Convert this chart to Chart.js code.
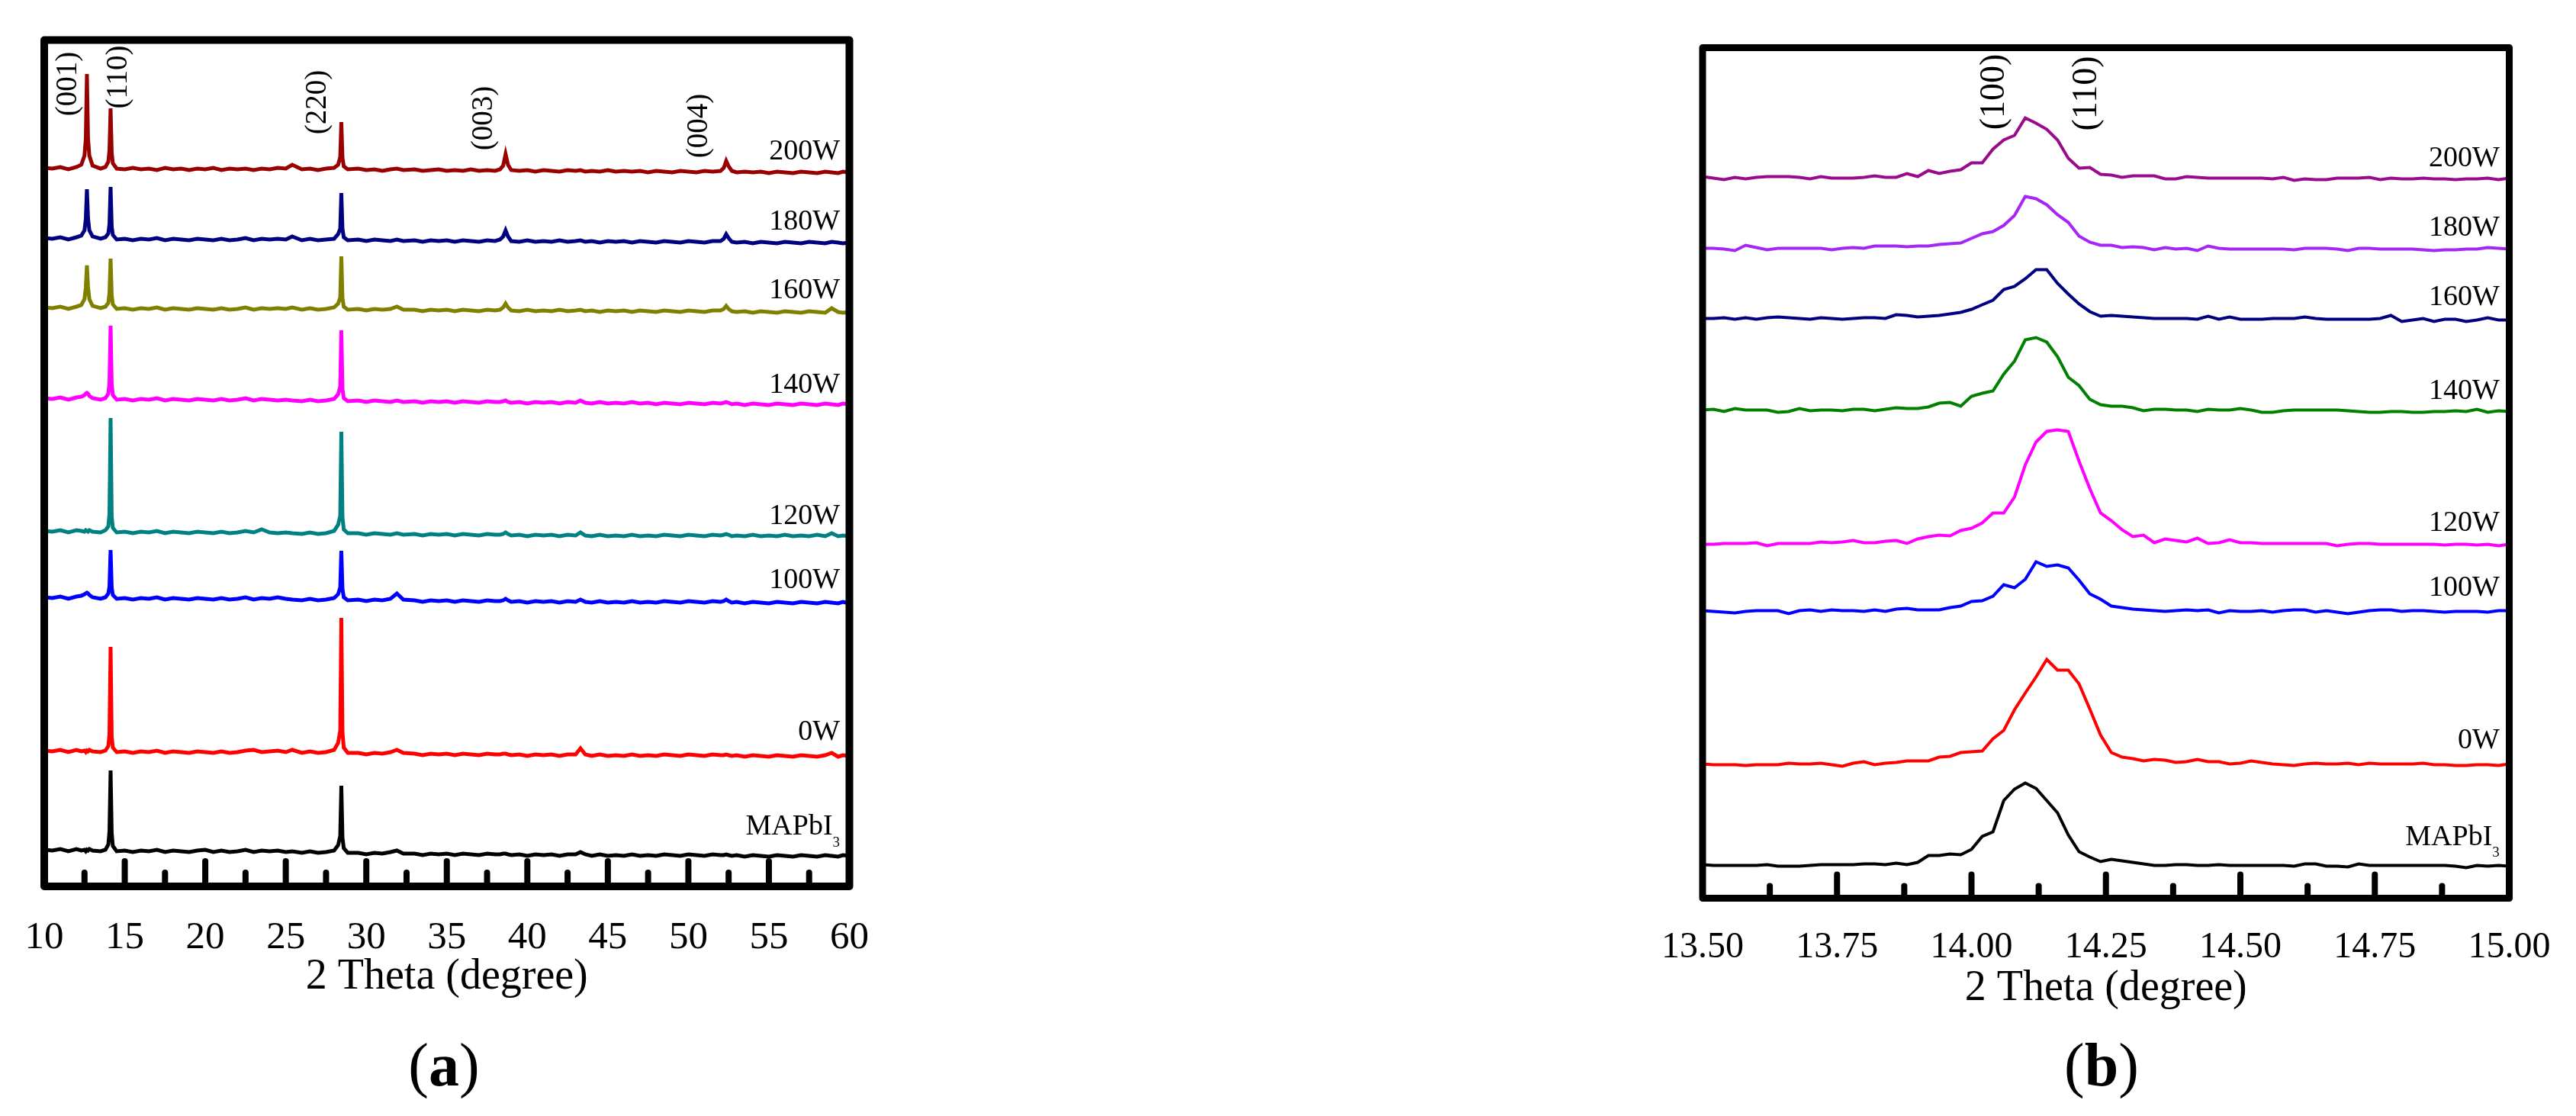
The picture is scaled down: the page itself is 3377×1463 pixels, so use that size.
<!DOCTYPE html>
<html><head><meta charset="utf-8">
<script src="https://cdn.jsdelivr.net/npm/chart.js@4.4.1/dist/chart.umd.min.js"></script>
<style>
html,body{margin:0;padding:0;background:#fff;}
body{width:3377px;height:1463px;position:relative;overflow:hidden;}
canvas{position:absolute;top:0;}
#ca{left:0;} #cb{left:2150px;}
</style></head><body>
<canvas id="ca" width="1200" height="1463"></canvas>
<canvas id="cb" width="1227" height="1463"></canvas>
<script>
const FONT = "'Liberation Serif','Times New Roman',Times,serif";

// ---------- panel (a): 2θ = 10–60° ----------
const thetaA = [
10,10.5,11,11.5,12,12.3,12.5,12.58,12.65,12.72,
12.8,13,13.5,13.8,13.98,14.05,14.12,14.19,14.26,14.5,
15,15.5,16,16.5,17,17.5,18,18.5,19,19.5,
20,20.5,21,21.5,22,22.5,23,23.5,24,24.5,
25,25.4,26,26.5,27,27.5,28,28.25,28.38,28.45,
28.52,28.6,28.85,29.5,30,30.5,31,31.5,31.9,32.3,
33,33.5,34,34.5,35,35.5,36,36.5,37,37.5,
38,38.3,38.5,38.65,38.8,39,39.5,40,40.5,41,
41.5,42,42.5,43,43.3,43.6,44,44.5,45,45.5,
46,46.5,47,47.5,48,48.5,49,49.5,50,50.5,
51,51.5,52,52.2,52.35,52.5,52.7,53,53.5,54,
54.5,55,55.5,56,56.5,57,57.5,58,58.5,58.9,
59.3,59.6,60];

const a200W = [
942,941,943,940,943,946,958,980,1065,980,
958,945,941,943,950,965,1020,962,948,941,
940,942,940,941,939,942,940,941,939,941,
940,942,939,941,940,941,939,941,940,942,
941,946,940,941,939,941,942,946,956,1002,
955,944,940,941,939,940,938,940,941,939,
940,938,939,940,938,939,938,940,938,939,
938,940,945,960,946,939,938,939,937,939,
938,937,939,938,939,937,938,937,939,937,
938,937,938,936,938,937,936,938,937,936,
938,937,938,942,951,944,938,936,937,936,
937,935,937,936,935,937,936,935,937,936,
935,937,936];
const a180W = [
850,849,851,848,851,853,860,875,914,876,
860,852,849,851,856,868,917,865,854,848,
849,847,849,848,850,847,849,848,847,849,
848,847,849,847,848,850,847,849,848,849,
848,852,847,849,847,848,849,855,862,909,
862,851,847,848,846,848,847,846,848,846,
847,845,847,846,847,845,847,846,845,847,
846,848,852,860,852,846,845,847,845,846,
845,847,845,846,847,845,846,844,846,845,
846,844,846,845,844,846,845,844,846,845,
844,846,846,849,855,850,845,844,845,843,
845,844,843,845,844,843,845,844,843,845,
844,843,844];
const a160W = [
759,758,760,757,760,762,770,785,814,786,
770,761,758,760,765,778,823,775,763,757,
758,756,758,757,759,756,758,757,756,758,
757,756,758,756,757,759,756,758,757,758,
757,759,756,758,756,757,759,764,772,826,
771,760,756,757,755,757,756,757,760,756,
756,754,756,755,756,754,756,755,754,756,
755,756,759,764,759,755,754,756,754,755,
754,756,754,755,756,754,755,753,755,754,
755,753,755,754,753,755,754,753,755,754,
753,755,755,757,761,757,754,753,754,752,
754,753,752,754,753,752,754,753,752,758,
753,752,753];
const a140W = [
640,639,641,638,641,642,644,646,647,646,
643,640,638,640,646,660,735,658,644,638,
639,637,639,638,640,637,639,638,637,639,
638,637,639,637,638,640,637,639,638,637,
638,637,636,638,636,637,639,645,655,729,
652,640,636,637,635,637,636,635,637,635,
636,634,636,635,636,634,636,635,634,636,
635,635,636,637,635,634,635,633,635,634,
635,633,635,634,637,634,633,635,633,634,
633,635,633,634,632,634,633,632,634,633,
632,634,633,634,635,634,632,633,631,633,
632,631,633,632,631,633,632,631,633,632,
631,633,632];
const a120W = [
466,465,467,464,467,466,465,467,466,465,
467,465,464,467,472,488,614,485,470,464,
465,463,465,464,466,463,465,464,463,465,
464,463,465,463,464,466,464,468,464,463,
464,463,462,464,462,463,466,474,486,596,
484,468,463,463,461,463,462,461,463,461,
462,460,462,461,462,460,462,461,460,462,
461,461,462,464,462,460,461,459,461,460,
461,459,461,460,464,460,459,461,459,460,
459,461,459,460,459,461,460,459,461,460,
459,461,460,461,462,461,459,460,459,461,
459,460,459,461,459,460,459,461,459,463,
459,460,459];
const a100W = [
379,378,380,377,380,381,383,384,385,384,
382,379,377,379,384,393,441,392,382,377,
378,376,378,377,379,376,378,377,376,378,
377,376,378,376,377,379,376,378,377,379,
377,376,375,377,375,376,378,383,392,440,
390,379,375,376,374,376,375,377,384,376,
375,373,375,374,375,373,375,374,373,375,
374,374,375,377,375,373,374,372,374,373,
374,372,374,373,376,373,372,374,372,373,
372,374,372,373,372,374,373,372,374,373,
372,374,373,374,376,374,372,373,371,373,
372,371,373,372,371,373,372,371,373,372,
371,373,371];
const a0W = [
178,177,179,176,179,177,178,176,178,177,
179,177,176,178,184,199,314,196,182,176,
177,175,177,176,178,175,177,176,175,177,
176,175,177,175,176,178,179,176,177,178,
176,179,175,177,175,176,179,188,204,352,
202,182,175,175,173,175,174,176,179,175,
174,172,174,173,174,172,174,173,172,174,
173,173,174,174,173,172,173,171,173,172,
173,171,173,173,181,173,171,173,171,172,
171,173,171,172,171,173,172,171,173,172,
171,173,172,172,173,172,171,172,170,172,
171,170,172,171,170,172,171,170,172,175,
170,172,171];
const aMAPbI3 = [
48,47,49,46,49,47,48,46,48,47,
49,47,46,48,55,72,152,70,53,46,
47,45,47,46,48,45,47,46,45,47,
48,45,47,45,46,48,45,47,46,47,
45,46,44,46,44,45,47,54,66,132,
64,50,44,44,42,44,43,45,47,43,
43,41,43,42,43,41,43,42,41,43,
42,42,43,43,42,41,42,40,42,41,
42,40,42,42,45,42,40,42,40,41,
40,42,40,41,40,42,41,40,42,41,
40,42,41,41,42,41,40,41,39,41,
40,39,41,40,39,41,40,39,41,40,
39,41,40];

const namesA = ['200W','180W','160W','140W','120W','100W','0W','MAPbI3'];
const valuesA = [a200W,a180W,a160W,a140W,a120W,a100W,a0W,aMAPbI3];
const ticksA = [10,15,20,25,30,35,40,45,50,55,60];
const tickLabelsA = ['10','15','20','25','30','35','40','45','50','55','60'];
const minorA = [12.5,17.5,22.5,27.5,32.5,37.5,42.5,47.5,52.5,57.5];
const peaksA = ['(001)','(110)','(220)','(003)','(004)'];

// ---------- panel (b): 2θ = 13.50–15.00° ----------
const thetaB = [
13.50,13.52,13.54,13.56,13.58,13.60,13.62,13.64,13.66,13.68,
13.70,13.72,13.74,13.76,13.78,13.80,13.82,13.84,13.86,13.88,
13.90,13.92,13.94,13.96,13.98,14.00,14.02,14.04,14.06,14.08,
14.10,14.12,14.14,14.16,14.18,14.20,14.22,14.24,14.26,14.28,
14.30,14.32,14.34,14.36,14.38,14.40,14.42,14.44,14.46,14.48,
14.50,14.52,14.54,14.56,14.58,14.60,14.62,14.64,14.66,14.68,
14.70,14.72,14.74,14.76,14.78,14.80,14.82,14.84,14.86,14.88,
14.90,14.92,14.94,14.96,14.98,15.00];

const b200W = [946,944,942,945,943,945,946,946,946,945,943,946,944,944,944,945,947,
945,945,950,946,954,950,953,955,964,964,982,994,1000,1023,1016,1008,994,970,957,958,949,948,945,947,947,947,943,943,
946,945,944,944,944,944,944,944,943,945,941,943,942,942,944,944,944,945,942,944,943,943,944,943,943,942,943,943,944,942,944];
const b180W = [852,852,851,849,856,853,850,852,852,852,852,852,850,852,853,852,855,
855,855,854,855,855,857,858,859,865,871,874,882,895,920,917,909,896,886,868,860,856,856,853,854,853,850,853,851,
852,849,855,852,851,851,851,851,851,851,850,852,852,852,851,849,852,852,851,851,851,851,850,849,850,850,851,851,853,852,851];
const b160W = [760,760,761,759,761,759,761,762,761,760,759,761,760,759,760,761,761,
760,765,764,762,763,764,766,768,772,778,784,798,802,812,824,824,806,792,779,769,763,764,763,762,761,760,760,760,
760,759,763,759,762,759,759,759,760,760,760,762,760,759,759,759,759,759,760,764,756,758,760,756,759,759,756,758,761,758,758];
const b140W = [640,641,638,642,640,640,640,637,638,642,639,640,640,639,641,641,639,
641,643,642,642,644,649,650,645,658,662,665,687,704,732,735,729,710,683,672,654,647,645,645,643,639,641,641,640,
640,638,641,640,640,642,640,637,637,639,640,640,640,640,640,639,638,637,637,638,638,637,637,638,638,639,638,641,637,639,638];
const b120W = [464,464,465,465,465,466,462,465,465,465,465,467,466,467,469,466,466,
468,469,465,471,474,476,475,482,485,492,505,505,526,568,598,612,614,612,573,537,505,495,483,474,476,466,471,469,
467,472,465,466,470,466,466,465,465,465,465,465,465,465,462,464,465,465,464,464,464,464,464,464,463,464,464,463,464,462,464];
const b100W = [377,376,375,374,376,377,377,377,373,377,378,376,378,377,377,376,378,
376,379,380,378,378,378,381,383,389,390,396,411,407,418,441,435,437,433,417,399,392,383,381,379,378,377,376,377,
378,377,378,374,377,376,376,377,375,377,378,378,375,377,375,373,375,377,378,378,376,377,377,376,375,376,376,376,375,377,377];
const b0W = [176,175,175,175,174,175,175,175,177,176,176,177,175,173,177,179,175,
177,178,180,180,180,185,186,191,192,193,209,220,247,269,290,313,299,299,281,248,214,191,185,183,180,182,181,178,
179,182,179,179,176,177,180,178,176,175,174,176,177,176,176,177,175,177,176,176,176,176,177,175,175,174,174,175,175,174,176];
const bMAPbI3 = [44,43,43,43,43,43,44,42,42,42,43,44,44,44,44,45,45,
44,46,44,47,56,56,58,57,64,81,87,128,143,151,144,128,112,83,61,54,48,51,49,47,45,43,43,44,
44,43,43,44,43,43,43,43,43,43,42,45,45,42,42,41,45,43,43,43,43,43,43,43,43,42,40,43,42,43,42];

const namesB = ['200W','180W','160W','140W','120W','100W','0W','MAPbI3'];
const valuesB = [b200W,b180W,b160W,b140W,b120W,b100W,b0W,bMAPbI3];
const ticksB = [13.5,13.75,14,14.25,14.5,14.75,15];
const tickLabelsB = ['13.50','13.75','14.00','14.25','14.50','14.75','15.00'];
const minorB = [13.625,13.875,14.125,14.375,14.625,14.875];
const peaksB = ['(100)','(110)'];

// ---------- styling / layout (not data) ----------
const colorsA = ['#990000','#000080','#808000','#ff00ff','#008080','#0000ff','#ff0000','#000000'];
const colorsB = ['#990a8c','#a526f5','#000080','#008000','#ff00ff','#0000ff','#ff0000','#000000'];

const layoutA = {
  padding:{left:58,right:86.5,top:52.5,bottom:0}, scaleH:301, yMax:1109.5,
  tickSize:51, tickPad:29, titlePad:148, frameW:10, tickW:8, majorLen:37, minorLen:22,
  nameX:59.41, nameY:[953,861,771,647,475,391,192,68], nameSize:38, subSize:19, subDrop:16,
  peakX:[11.52,14.64,27.0,37.3,50.66], peakY:[1052,1061,1028,1007,997], peakFont:'39px '+FONT,
  caption:'a', capX:582, capY:1423, lineW:5
};
const layoutB = {
  padding:{left:79.5,right:87.5,top:62.5,bottom:0}, scaleH:285.5, yMax:1115,
  tickSize:48, tickPad:28, titlePad:133, frameW:9, tickW:8, majorLen:35, minorLen:20,
  nameX:14.982, nameY:[960,869,778,655,482,397,197,70], nameSize:38, subSize:19, subDrop:15,
  peakX:[14.043,14.215], peakY:[1057,1055], peakFont:'46px '+FONT,
  caption:'b', capX:605, capY:1423, lineW:4
};

function decor(L, major, minor, names, peaks) {
  return {
    id: 'decor',
    afterDatasetsDraw(chart) {
      const {ctx, chartArea: a, scales: {x, y}} = chart;
      ctx.save();
      ctx.strokeStyle = '#000';
      ctx.fillStyle = '#000';
      ctx.lineCap = 'round';
      ctx.lineWidth = L.tickW;
      const tick = (v, len) => {
        const px = x.getPixelForValue(v);
        ctx.beginPath();
        ctx.moveTo(px, a.bottom);
        ctx.lineTo(px, a.bottom - len + L.tickW / 2);
        ctx.stroke();
      };
      major.forEach(v => tick(v, L.majorLen));
      minor.forEach(v => tick(v, L.minorLen));
      ctx.lineWidth = L.frameW;
      ctx.lineJoin = 'round';
      ctx.strokeRect(a.left, a.top, a.right - a.left, a.bottom - a.top);

      // series names
      ctx.textAlign = 'right';
      ctx.textBaseline = 'alphabetic';
      names.forEach((n, i) => {
        const px = x.getPixelForValue(L.nameX);
        const py = y.getPixelForValue(L.nameY[i]);
        const m = n.match(/^(.*?)(\d)$/);
        if (n.startsWith('MAP') && m) {
          ctx.font = L.subSize + 'px ' + FONT;
          const ws = ctx.measureText(m[2]).width;
          ctx.fillText(m[2], px, py + L.subDrop);
          ctx.font = L.nameSize + 'px ' + FONT;
          ctx.fillText(m[1], px - ws, py);
        } else {
          ctx.font = L.nameSize + 'px ' + FONT;
          ctx.fillText(n, px, py);
        }
      });

      // peak (hkl) labels, rotated
      ctx.font = L.peakFont;
      ctx.textAlign = 'center';
      ctx.textBaseline = 'middle';
      peaks.forEach((p, i) => {
        ctx.save();
        ctx.translate(x.getPixelForValue(L.peakX[i]), y.getPixelForValue(L.peakY[i]));
        ctx.rotate(-Math.PI / 2);
        ctx.fillText(p, 0, 0);
        ctx.restore();
      });

      // panel caption "(a)" / "(b)"
      ctx.textBaseline = 'alphabetic';
      ctx.textAlign = 'left';
      const reg = '80px ' + FONT, bold = 'bold 80px ' + FONT;
      ctx.font = reg; const wp = ctx.measureText('(').width, wq = ctx.measureText(')').width;
      ctx.font = bold; const wl = ctx.measureText(L.caption).width;
      let cx = L.capX - (wp + wl + wq) / 2;
      ctx.font = reg; ctx.fillText('(', cx, L.capY); cx += wp;
      ctx.font = bold; ctx.fillText(L.caption, cx, L.capY); cx += wl;
      ctx.font = reg; ctx.fillText(')', cx, L.capY);
      ctx.restore();
    }
  };
}

function build(canvasId, L, theta, names, values, colors, ticks, tickLabels, minor, peaks, xmin, xmax) {
  const datasets = names.map((n, k) => ({
    label: n,
    data: theta.map((t, i) => ({x: t, y: values[k][i]})),
    borderColor: colors[k],
    borderWidth: L.lineW,
    pointRadius: 0,
    tension: 0,
    fill: false
  }));
  return new Chart(document.getElementById(canvasId), {
    type: 'line',
    data: {datasets},
    options: {
      responsive: false, animation: false, devicePixelRatio: 1,
      layout: {padding: L.padding},
      plugins: {legend: {display: false}, tooltip: {enabled: false}},
      scales: {
        x: {
          type: 'linear', min: xmin, max: xmax,
          grid: {display: false}, border: {display: false},
          afterBuildTicks: s => { s.ticks = ticks.map(v => ({value: v})); },
          afterFit: s => { s.height = L.scaleH; },
          ticks: {
            font: {family: FONT, size: L.tickSize}, color: '#000', padding: L.tickPad,
            maxRotation: 0, minRotation: 0, autoSkip: false,
            callback: (v, i) => tickLabels[i]
          },
          title: {display: true, text: '2 Theta (degree)', color: '#000',
                  font: {family: FONT, size: 56}, padding: {top: 0, bottom: L.titlePad}}
        },
        y: {display: false, min: 0, max: L.yMax}
      }
    },
    plugins: [decor(L, ticks, minor, names, peaks)]
  });
}

build('ca', layoutA, thetaA, namesA, valuesA, colorsA, ticksA, tickLabelsA, minorA, peaksA, 10, 60);
build('cb', layoutB, thetaB, namesB, valuesB, colorsB, ticksB, tickLabelsB, minorB, peaksB, 13.5, 15);
</script>
</body></html>
